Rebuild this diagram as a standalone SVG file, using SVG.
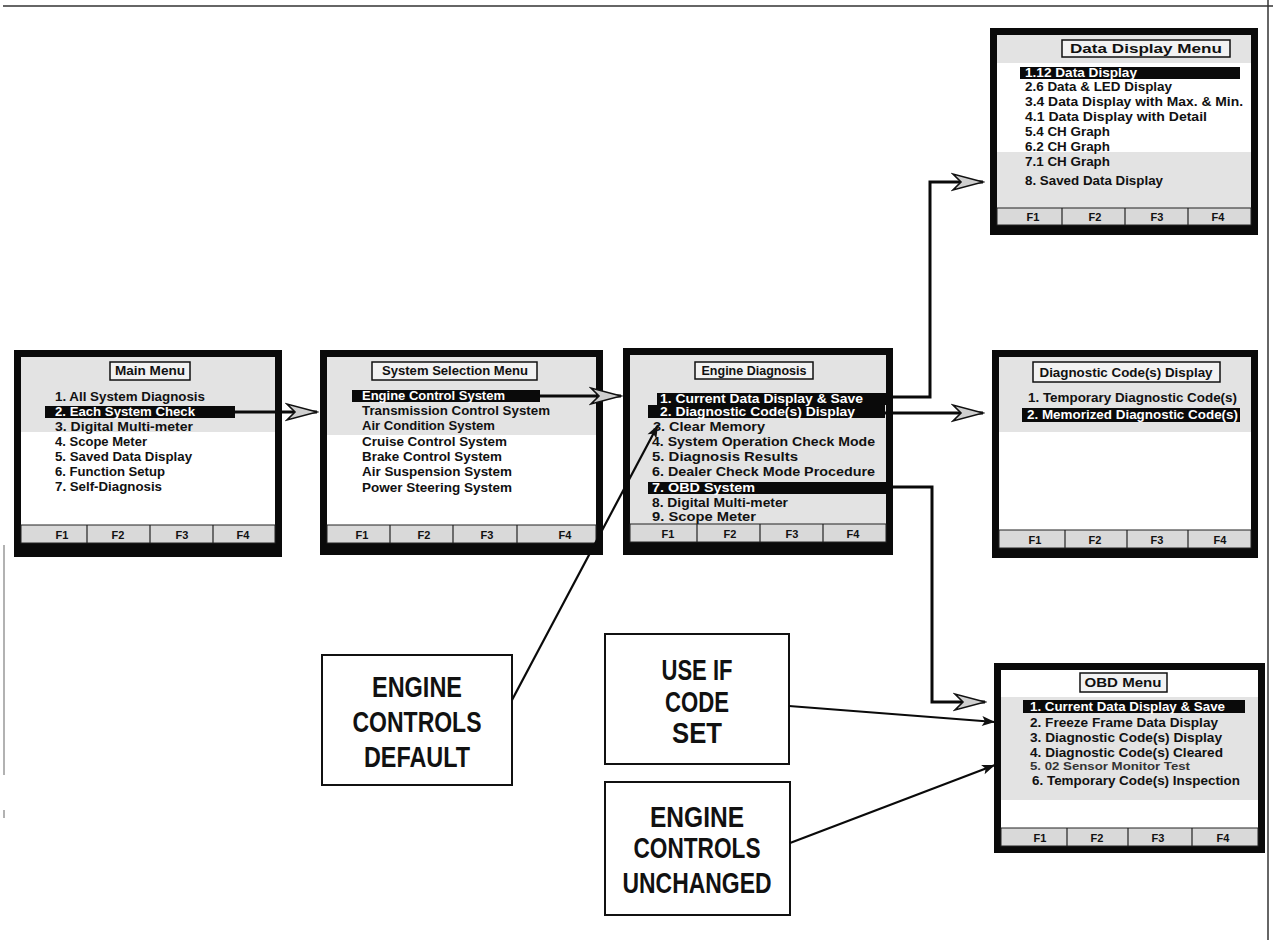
<svg xmlns="http://www.w3.org/2000/svg" width="1273" height="940" viewBox="0 0 1273 940">
<style>
text{font-family:"Liberation Sans",Arial,Helvetica,sans-serif;font-weight:bold}
.it{font-size:12.5px;fill:#111}
.hi{fill:#fff}
.ti{font-size:12.5px;fill:#111;text-anchor:middle}
.fk{font-size:11px;fill:#111;text-anchor:middle}
.frame{fill:#0a0a0a}
.scr{fill:#fff}
.gray{fill:#e3e3e3}
.foot{fill:#d9d9d9;stroke:#222;stroke-width:1}
.div{stroke:#222;stroke-width:1.2}
.tbox{fill:#f2f2f2;stroke:#111;stroke-width:1.5}
.bar{fill:#0a0a0a}
.conn{fill:none;stroke:#0a0a0a;stroke-width:3}
.call{fill:none;stroke:#0a0a0a;stroke-width:2.2}
.cbox{fill:#fff;stroke:#111;stroke-width:2}
.ct{font-size:29px;fill:#111;text-anchor:middle}
.scan{stroke:#333;stroke-width:1.5;fill:none}
</style>
<defs>
<marker id="open" markerUnits="userSpaceOnUse" markerWidth="34" markerHeight="20" viewBox="-32 -10 34 20" refX="0" refY="0" orient="auto">
<path d="M0,0 L-30,-8 L-22,0 L-30,8 Z" fill="#cfcfcf" stroke="#111" stroke-width="1.6" stroke-linejoin="miter"/>
</marker>
<marker id="solid" markerUnits="userSpaceOnUse" markerWidth="16" markerHeight="12" viewBox="-14 -6 16 12" refX="0" refY="0" orient="auto">
<path d="M0,0 L-13,-5 L-10,0 L-13,5 Z" fill="#111"/>
</marker>
</defs>

<g id="scan-border">
<line class="scan" x1="3" y1="6" x2="1273" y2="6"/>
<line class="scan" x1="1268" y1="0" x2="1268" y2="940" stroke="#555"/>
<line x1="4" y1="545" x2="4" y2="775" stroke="#999" stroke-width="1.5"/>
<line x1="4" y1="810" x2="4" y2="818" stroke="#999" stroke-width="1.5"/>
</g>

<g id="main-menu">
<rect class="frame" x="14" y="350" width="268" height="207"/>
<rect class="scr" x="21" y="357" width="254" height="168"/>
<rect class="gray" x="21" y="357" width="254" height="75"/>
<rect class="tbox" x="110" y="362" width="80" height="18"/>
<text class="ti" x="150" y="375" textLength="70" lengthAdjust="spacingAndGlyphs">Main Menu</text>
<rect class="bar" x="45" y="406" width="190" height="12"/>
<text class="it" x="55" y="401" textLength="150" lengthAdjust="spacingAndGlyphs">1. All System Diagnosis</text>
<text class="it hi" x="55" y="416" textLength="140" lengthAdjust="spacingAndGlyphs">2. Each System Check</text>
<text class="it" x="55" y="431" textLength="138" lengthAdjust="spacingAndGlyphs">3. Digital Multi-meter</text>
<text class="it" x="55" y="446" textLength="92" lengthAdjust="spacingAndGlyphs">4. Scope Meter</text>
<text class="it" x="55" y="461" textLength="137" lengthAdjust="spacingAndGlyphs">5. Saved Data Display</text>
<text class="it" x="55" y="476" textLength="110" lengthAdjust="spacingAndGlyphs">6. Function Setup</text>
<text class="it" x="55" y="491" textLength="107" lengthAdjust="spacingAndGlyphs">7. Self-Diagnosis</text>
<rect class="foot" x="21" y="525" width="254" height="18"/>
<line class="div" x1="87" y1="525" x2="87" y2="543"/>
<line class="div" x1="150" y1="525" x2="150" y2="543"/>
<line class="div" x1="213" y1="525" x2="213" y2="543"/>
<text class="fk" x="62" y="539">F1</text>
<text class="fk" x="118" y="539">F2</text>
<text class="fk" x="182" y="539">F3</text>
<text class="fk" x="243" y="539">F4</text>
</g>

<g id="system-selection-menu">
<rect class="frame" x="320" y="350" width="283" height="205"/>
<rect class="scr" x="327" y="357" width="269" height="168"/>
<rect class="gray" x="327" y="357" width="269" height="78"/>
<rect class="tbox" x="372" y="362" width="165" height="18"/>
<text class="ti" x="455" y="375" textLength="146" lengthAdjust="spacingAndGlyphs">System Selection Menu</text>
<rect class="bar" x="352" y="390" width="188" height="12"/>
<text class="it hi" x="362" y="400" textLength="143" lengthAdjust="spacingAndGlyphs">Engine Control System</text>
<text class="it" x="362" y="415" textLength="188" lengthAdjust="spacingAndGlyphs">Transmission Control System</text>
<text class="it" x="362" y="430" textLength="133" lengthAdjust="spacingAndGlyphs">Air Condition System</text>
<text class="it" x="362" y="446" textLength="145" lengthAdjust="spacingAndGlyphs">Cruise Control System</text>
<text class="it" x="362" y="461" textLength="140" lengthAdjust="spacingAndGlyphs">Brake Control System</text>
<text class="it" x="362" y="476" textLength="150" lengthAdjust="spacingAndGlyphs">Air Suspension System</text>
<text class="it" x="362" y="492" textLength="150" lengthAdjust="spacingAndGlyphs">Power Steering System</text>
<rect class="foot" x="327" y="525" width="269" height="18"/>
<line class="div" x1="390" y1="525" x2="390" y2="543"/>
<line class="div" x1="453" y1="525" x2="453" y2="543"/>
<line class="div" x1="517" y1="525" x2="517" y2="543"/>
<text class="fk" x="362" y="539">F1</text>
<text class="fk" x="424" y="539">F2</text>
<text class="fk" x="487" y="539">F3</text>
<text class="fk" x="565" y="539">F4</text>
</g>

<g id="engine-diagnosis">
<rect class="frame" x="623" y="348" width="270" height="207"/>
<rect class="gray" x="630" y="355" width="256" height="169"/>
<rect class="tbox" x="695" y="362" width="118" height="17"/>
<text class="ti" x="754" y="375" textLength="105" lengthAdjust="spacingAndGlyphs">Engine Diagnosis</text>
<rect class="bar" x="657" y="393" width="236" height="12"/>
<rect class="bar" x="648" y="405" width="237" height="13"/>
<rect class="bar" x="648" y="482" width="245" height="12"/>
<text class="it hi" x="660" y="403" textLength="203" lengthAdjust="spacingAndGlyphs">1. Current Data Display &amp; Save</text>
<text class="it hi" x="660" y="416" textLength="195" lengthAdjust="spacingAndGlyphs">2. Diagnostic Code(s) Display</text>
<text class="it" x="653" y="431" textLength="112" lengthAdjust="spacingAndGlyphs">3. Clear Memory</text>
<text class="it" x="652" y="446" textLength="223" lengthAdjust="spacingAndGlyphs">4. System Operation Check Mode</text>
<text class="it" x="652" y="461" textLength="146" lengthAdjust="spacingAndGlyphs">5. Diagnosis Results</text>
<text class="it" x="652" y="476" textLength="223" lengthAdjust="spacingAndGlyphs">6. Dealer Check Mode Procedure</text>
<text class="it hi" x="652" y="492" textLength="103" lengthAdjust="spacingAndGlyphs">7. OBD System</text>
<text class="it" x="652" y="507" textLength="136" lengthAdjust="spacingAndGlyphs">8. Digital Multi-meter</text>
<text class="it" x="652" y="521" textLength="104" lengthAdjust="spacingAndGlyphs">9. Scope Meter</text>
<rect class="foot" x="630" y="524" width="256" height="18"/>
<line class="div" x1="697" y1="524" x2="697" y2="542"/>
<line class="div" x1="760" y1="524" x2="760" y2="542"/>
<line class="div" x1="823" y1="524" x2="823" y2="542"/>
<text class="fk" x="668" y="538">F1</text>
<text class="fk" x="730" y="538">F2</text>
<text class="fk" x="792" y="538">F3</text>
<text class="fk" x="853" y="538">F4</text>
</g>

<g id="data-display-menu">
<rect class="frame" x="990" y="28" width="268" height="207"/>
<rect class="scr" x="997" y="35" width="254" height="173"/>
<rect class="gray" x="997" y="35" width="254" height="28"/>
<rect class="gray" x="997" y="152" width="254" height="56"/>
<rect class="tbox" x="1062" y="40" width="168" height="17"/>
<text class="ti" x="1146" y="53" textLength="152" lengthAdjust="spacingAndGlyphs">Data Display Menu</text>
<rect class="bar" x="1020" y="67" width="220" height="12"/>
<text class="it hi" x="1025" y="77" textLength="112" lengthAdjust="spacingAndGlyphs">1.12 Data Display</text>
<text class="it" x="1025" y="91" textLength="147" lengthAdjust="spacingAndGlyphs">2.6 Data &amp; LED Display</text>
<text class="it" x="1025" y="106" textLength="218" lengthAdjust="spacingAndGlyphs">3.4 Data Display with Max. &amp; Min.</text>
<text class="it" x="1025" y="121" textLength="182" lengthAdjust="spacingAndGlyphs">4.1 Data Display with Detail</text>
<text class="it" x="1025" y="136" textLength="85" lengthAdjust="spacingAndGlyphs">5.4 CH Graph</text>
<text class="it" x="1025" y="151" textLength="85" lengthAdjust="spacingAndGlyphs">6.2 CH Graph</text>
<text class="it" x="1025" y="166" textLength="85" lengthAdjust="spacingAndGlyphs">7.1 CH Graph</text>
<text class="it" x="1025" y="185" textLength="138" lengthAdjust="spacingAndGlyphs">8. Saved Data Display</text>
<rect class="foot" x="997" y="208" width="254" height="17"/>
<line class="div" x1="1062" y1="208" x2="1062" y2="225"/>
<line class="div" x1="1125" y1="208" x2="1125" y2="225"/>
<line class="div" x1="1188" y1="208" x2="1188" y2="225"/>
<text class="fk" x="1033" y="221">F1</text>
<text class="fk" x="1095" y="221">F2</text>
<text class="fk" x="1157" y="221">F3</text>
<text class="fk" x="1218" y="221">F4</text>
</g>

<g id="diagnostic-codes-display">
<rect class="frame" x="992" y="350" width="266" height="208"/>
<rect class="scr" x="999" y="357" width="252" height="173"/>
<rect class="gray" x="999" y="357" width="252" height="75"/>
<rect class="tbox" x="1033" y="362" width="187" height="20"/>
<text class="ti" x="1126" y="377" textLength="173" lengthAdjust="spacingAndGlyphs">Diagnostic Code(s) Display</text>
<text class="it" x="1028" y="402" textLength="209" lengthAdjust="spacingAndGlyphs">1. Temporary Diagnostic Code(s)</text>
<rect class="bar" x="1022" y="408" width="218" height="14"/>
<text class="it hi" x="1027" y="419" textLength="211" lengthAdjust="spacingAndGlyphs">2. Memorized Diagnostic Code(s)</text>
<rect class="foot" x="999" y="530" width="252" height="18"/>
<line class="div" x1="1065" y1="530" x2="1065" y2="548"/>
<line class="div" x1="1127" y1="530" x2="1127" y2="548"/>
<line class="div" x1="1188" y1="530" x2="1188" y2="548"/>
<text class="fk" x="1035" y="544">F1</text>
<text class="fk" x="1095" y="544">F2</text>
<text class="fk" x="1157" y="544">F3</text>
<text class="fk" x="1220" y="544">F4</text>
</g>

<g id="obd-menu">
<rect class="frame" x="994" y="663" width="271" height="190"/>
<rect class="scr" x="1001" y="670" width="257" height="158"/>
<rect class="gray" x="1001" y="697" width="257" height="103"/>
<rect class="tbox" x="1080" y="673" width="87" height="19"/>
<text class="ti" x="1123" y="687" textLength="77" lengthAdjust="spacingAndGlyphs">OBD Menu</text>
<rect class="bar" x="1023" y="700" width="222" height="13"/>
<text class="it hi" x="1030" y="711" textLength="195" lengthAdjust="spacingAndGlyphs">1. Current Data Display &amp; Save</text>
<text class="it" x="1030" y="727" textLength="188" lengthAdjust="spacingAndGlyphs">2. Freeze Frame Data Display</text>
<text class="it" x="1030" y="742" textLength="192" lengthAdjust="spacingAndGlyphs">3. Diagnostic Code(s) Display</text>
<text class="it" x="1030" y="757" textLength="193" lengthAdjust="spacingAndGlyphs">4. Diagnostic Code(s) Cleared</text>
<text class="it" x="1030" y="770" textLength="160" lengthAdjust="spacingAndGlyphs" style="font-size:10px;fill:#333">5. 02 Sensor Monitor Test</text>
<text class="it" x="1032" y="785" textLength="208" lengthAdjust="spacingAndGlyphs">6. Temporary Code(s) Inspection</text>
<rect class="foot" x="1001" y="828" width="257" height="18"/>
<line class="div" x1="1067" y1="828" x2="1067" y2="846"/>
<line class="div" x1="1128" y1="828" x2="1128" y2="846"/>
<line class="div" x1="1192" y1="828" x2="1192" y2="846"/>
<text class="fk" x="1040" y="842">F1</text>
<text class="fk" x="1097" y="842">F2</text>
<text class="fk" x="1158" y="842">F3</text>
<text class="fk" x="1223" y="842">F4</text>
</g>

<g id="callout-default">
<rect class="cbox" x="322" y="655" width="190" height="130"/>
<text class="ct" x="417" y="697" textLength="90" lengthAdjust="spacingAndGlyphs">ENGINE</text>
<text class="ct" x="417" y="732" textLength="129" lengthAdjust="spacingAndGlyphs">CONTROLS</text>
<text class="ct" x="417" y="767" textLength="106" lengthAdjust="spacingAndGlyphs">DEFAULT</text>
</g>

<g id="callout-use-if-code-set">
<rect class="cbox" x="605" y="634" width="184" height="130"/>
<text class="ct" x="697" y="680" textLength="71" lengthAdjust="spacingAndGlyphs">USE IF</text>
<text class="ct" x="697" y="712" textLength="64" lengthAdjust="spacingAndGlyphs">CODE</text>
<text class="ct" x="697" y="743" textLength="50" lengthAdjust="spacingAndGlyphs">SET</text>
</g>

<g id="callout-unchanged">
<rect class="cbox" x="605" y="782" width="185" height="133"/>
<text class="ct" x="697" y="827" textLength="94" lengthAdjust="spacingAndGlyphs">ENGINE</text>
<text class="ct" x="697" y="858" textLength="127" lengthAdjust="spacingAndGlyphs">CONTROLS</text>
<text class="ct" x="697" y="893" textLength="149" lengthAdjust="spacingAndGlyphs">UNCHANGED</text>
</g>

<g id="connectors">
<line class="conn" x1="235" y1="412" x2="317" y2="412" marker-end="url(#open)"/>
<line class="conn" x1="540" y1="396" x2="621" y2="396" marker-end="url(#open)"/>
<polyline class="conn" points="893,397 930,397 930,182 983,182" marker-end="url(#open)"/>
<line class="conn" x1="885" y1="413" x2="983" y2="413" marker-end="url(#open)"/>
<polyline class="conn" points="893,487 932,487 932,702 985,702" marker-end="url(#open)"/>
<line class="call" x1="512" y1="700" x2="658" y2="425" marker-end="url(#solid)"/>
<line class="call" x1="789" y1="706" x2="995" y2="722" marker-end="url(#solid)"/>
<line class="call" x1="790" y1="843" x2="995" y2="765" marker-end="url(#solid)"/>
</g>
</svg>
